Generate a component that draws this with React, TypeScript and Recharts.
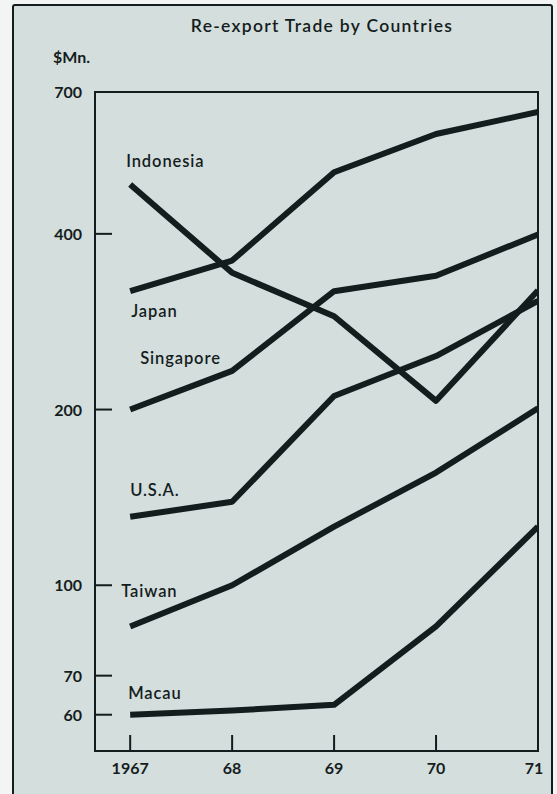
import React from 'react'
import { LineChart, Line, XAxis, YAxis, ReferenceArea, LabelList } from 'recharts'

// Re-export trade by countries, $Mn., log scale
const YEARS = [1967, 1968, 1969, 1970, 1971]
const X_TICK_LABELS = ['1967', '68', '69', '70', '71']
const Y_TICKS = [60, 70, 100, 200, 400, 700]

const INDONESIA = [486, 343, 289, 207, 320]
const JAPAN = [319, 360, 510, 593, 647]
const SINGAPORE = [200, 233, 319, 339, 399]
const USA = [131, 139, 211, 247, 307]
const TAIWAN = [85, 100, 126, 156, 201]
const MACAU = [60, 61, 62.4, 85, 126]

const X_MIN = 1966.655
const Y_MIN = 52
const Y_MAX = 700

const INK = '#141d1e'
const PAPER = '#d4dedc'
const FONT = 'Lato, "Open Sans", sans-serif'

const data = YEARS.map((year, i) => ({
  year,
  indonesia: INDONESIA[i],
  japan: JAPAN[i],
  singapore: SINGAPORE[i],
  usa: USA[i],
  taiwan: TAIWAN[i],
  macau: MACAU[i],
}))

// label text and its offset from the first point of each series
const SERIES = [
  { key: 'indonesia', name: 'Indonesia', dx: -4, dy: -17 },
  { key: 'japan', name: 'Japan', dx: 1, dy: 26 },
  { key: 'singapore', name: 'Singapore', dx: 10, dy: -46 },
  { key: 'usa', name: 'U.S.A.', dx: 0, dy: -21 },
  { key: 'taiwan', name: 'Taiwan', dx: -9, dy: -29 },
  { key: 'macau', name: 'Macau', dx: -2, dy: -16 },
]

function seriesLabel(name: string, dx: number, dy: number) {
  return (props: any) => {
    if (props.index !== 0) return null
    return (
      <text
        x={props.x + dx}
        y={props.y + dy}
        fill={INK}
        fontSize={16.5}
        fontWeight={600}
        fontFamily={FONT}
        letterSpacing={0.9}
        textAnchor="start"
      >
        {name}
      </text>
    )
  }
}

function YTick(props: any) {
  const { x, y, payload } = props
  return (
    <g>
      <line x1={x} y1={y} x2={x + 17} y2={y} stroke={INK} strokeWidth={2} />
      <text x={x - 13} y={y + 6} textAnchor="end" fill={INK} fontSize={16} fontWeight={700} fontFamily={FONT}>
        {payload.value}
      </text>
    </g>
  )
}

function XTick(props: any) {
  const { x, y, payload, index } = props
  return (
    <g>
      <line x1={x} y1={y} x2={x} y2={y - 16} stroke={INK} strokeWidth={2} />
      <text
        x={index === X_TICK_LABELS.length - 1 ? x - 4 : x}
        y={y + 23}
        textAnchor="middle"
        fill={INK}
        fontSize={16}
        fontWeight={700}
        fontFamily={FONT}
      >
        {X_TICK_LABELS[index] ?? payload.value}
      </text>
    </g>
  )
}

export default function App() {
  return (
    <div style={{ position: 'absolute', left: 0, top: 0, width: 557, height: 794, background: '#f3f5f4', overflow: 'hidden' }}>
      <div
        style={{
          position: 'absolute',
          left: 12,
          top: 4,
          width: 541,
          height: 830,
          border: `2px solid ${INK}`,
          borderRadius: 3,
          background: PAPER,
          boxSizing: 'border-box',
        }}
      />
      <div
        style={{
          position: 'absolute',
          left: 180,
          top: 15,
          width: 284,
          textAlign: 'center',
          fontFamily: FONT,
          fontSize: 17.5,
          fontWeight: 600,
          letterSpacing: 1.3,
          color: INK,
          whiteSpace: 'nowrap',
        }}
      >
        Re-export Trade by Countries
      </div>
      <div
        style={{
          position: 'absolute',
          left: 53,
          top: 47,
          fontFamily: FONT,
          fontSize: 16,
          fontWeight: 700,
          color: INK,
        }}
      >
        $Mn.
      </div>
      <div style={{ position: 'absolute', left: 0, top: 0 }}>
        <LineChart width={557} height={794} data={data} margin={{ top: 92, right: 19, bottom: 13, left: 35 }}>
          <XAxis
            dataKey="year"
            type="number"
            domain={[X_MIN, 1971]}
            ticks={YEARS}
            allowDataOverflow
            axisLine={false}
            tickLine={false}
            tickSize={0}
            tickMargin={0}
            height={30}
            tick={<XTick />}
          />
          <YAxis
            type="number"
            scale="log"
            domain={[Y_MIN, Y_MAX]}
            ticks={Y_TICKS}
            allowDataOverflow
            axisLine={false}
            tickLine={false}
            tickSize={0}
            tickMargin={0}
            width={60}
            tick={<YTick />}
          />
          <ReferenceArea
            x1={X_MIN}
            x2={1971}
            y1={Y_MIN}
            y2={Y_MAX}
            fill="none"
            stroke={INK}
            strokeWidth={2}
            ifOverflow="visible"
          />
          {SERIES.map((s) => (
            <Line
              key={s.key}
              type="linear"
              dataKey={s.key}
              stroke={INK}
              strokeWidth={6}
              strokeLinejoin="round"
              strokeLinecap="butt"
              dot={false}
              activeDot={false}
              isAnimationActive={false}
            >
              <LabelList dataKey={s.key} content={seriesLabel(s.name, s.dx, s.dy)} />
            </Line>
          ))}
        </LineChart>
      </div>
    </div>
  )
}
